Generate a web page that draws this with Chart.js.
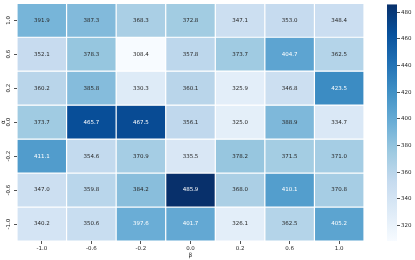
<!DOCTYPE html>
<html>
<head>
<meta charset="utf-8">
<script src="https://cdn.jsdelivr.net/npm/chart.js@4"></script>
<style>
body { margin: 0; background: #fff; }
#wrap { position: relative; width: 415px; height: 260px; }
canvas { position: absolute; top: 0; }
</style>
</head>
<body>
<div id="wrap">
  <canvas id="heat" width="370" height="260" style="left:0"></canvas>
  <canvas id="bar" width="45" height="260" style="left:370px"></canvas>
</div>
<script>
// beta along x, alpha along y (top row first)
const betas = ['-1.0', '-0.6', '-0.2', '0.0', '0.2', '0.6', '1.0'];
const alphas = ['1.0', '0.6', '0.2', '0.0', '-0.2', '-0.6', '-1.0'];

const rowA10 = [391.9, 387.3, 368.3, 372.8, 347.1, 353.0, 348.4];
const rowA06 = [352.1, 378.3, 308.4, 357.8, 373.7, 404.7, 362.5];
const rowA02 = [360.2, 385.8, 330.3, 360.1, 325.9, 346.8, 423.5];
const rowA00 = [373.7, 465.7, 467.5, 356.1, 325.0, 388.9, 334.7];
const rowAm02 = [411.1, 354.6, 370.9, 335.5, 378.2, 371.5, 371.0];
const rowAm06 = [347.0, 359.8, 384.2, 485.9, 368.0, 410.1, 370.8];
const rowAm10 = [340.2, 350.6, 397.6, 401.7, 326.1, 362.5, 405.2];

const rows = [rowA10, rowA06, rowA02, rowA00, rowAm02, rowAm06, rowAm10];
const cbTicks = [320, 340, 360, 380, 400, 420, 440, 460, 480];

const vmin = Math.min(...rows.flat());
const vmax = Math.max(...rows.flat());

Chart.defaults.font.family = '"DejaVu Sans", sans-serif';
Chart.defaults.font.size = 5.5;
Chart.defaults.color = '#262626';

// matplotlib "Blues"
const blues = [[247,251,255],[222,235,247],[198,219,239],[158,202,225],[107,174,214],
               [66,146,198],[33,113,181],[8,81,156],[8,48,107]];

function blueRGB(v) {
  let t = (v - vmin) / (vmax - vmin);
  t = Math.max(0, Math.min(1, t));
  const p = t * 8;
  const i = Math.min(7, Math.floor(p));
  const f = p - i;
  return blues[i].map((c, k) => Math.round(c + (blues[i + 1][k] - c) * f));
}

function luminance(rgb) {
  const c = rgb.map(x => {
    x /= 255;
    return x <= 0.03928 ? x / 12.92 : Math.pow((x + 0.055) / 1.055, 2.4);
  });
  return 0.2126 * c[0] + 0.7152 * c[1] + 0.0722 * c[2];
}

// rows are stacked bottom-up
const datasets = [];
for (let r = rows.length - 1; r >= 0; r--) {
  datasets.push({
    label: alphas[r],
    values: rows[r],
    data: betas.map(() => 1),
    backgroundColor: rows[r].map(v => `rgb(${blueRGB(v)})`),
    borderColor: '#ffffff',
    borderWidth: 0.6,
    borderSkipped: false,
    inflateAmount: 0,
    barPercentage: 1,
    categoryPercentage: 1
  });
}

const cellText = {
  id: 'cellText',
  afterDatasetsDraw(chart) {
    const ctx = chart.ctx;
    ctx.save();
    ctx.font = '5.5px "DejaVu Sans"';
    ctx.textAlign = 'center';
    ctx.textBaseline = 'middle';
    chart.data.datasets.forEach((ds, di) => {
      chart.getDatasetMeta(di).data.forEach((el, i) => {
        const v = ds.values[i];
        ctx.fillStyle = luminance(blueRGB(v)) > 0.408 ? '#262626' : '#ffffff';
        ctx.fillText(v.toFixed(1), el.x, (el.y + el.base) / 2);
      });
    });
    ctx.restore();
  }
};

new Chart(document.getElementById('heat'), {
  type: 'bar',
  data: { labels: betas, datasets: datasets },
  options: {
    responsive: false,
    animation: false,
    devicePixelRatio: 1,
    layout: { padding: { left: 0, top: 3, right: 6, bottom: 0 } },
    plugins: { legend: { display: false }, tooltip: { enabled: false } },
    scales: {
      x: {
        stacked: true,
        afterFit: s => { s.height = 19; },
        grid: { offset: false, drawOnChartArea: false, tickLength: 3, color: '#262626', lineWidth: 0.8 },
        border: { display: false },
        ticks: { padding: 1, maxRotation: 0 },
        title: { display: true, text: 'β', padding: { top: 0, bottom: 1 }, font: { size: 6 } }
      },
      y: {
        stacked: true,
        min: 0,
        max: 7,
        afterFit: s => { s.width = 17; },
        afterBuildTicks: s => { s.ticks = alphas.map((a, i) => ({ value: 6.5 - i })); },
        grid: { drawOnChartArea: false, tickLength: 3, color: '#262626', lineWidth: 0.8 },
        border: { display: false },
        ticks: {
          minRotation: 90,
          maxRotation: 90,
          crossAlign: 'center',
          padding: 0,
          callback: v => alphas[Math.round(6.5 - v)]
        },
        title: { display: true, text: 'α', padding: 0, font: { size: 6 } }
      }
    }
  },
  plugins: [cellText]
});

function cbGradient(chart) {
  const { ctx, chartArea, scales } = chart;
  if (!chartArea) return 'rgb(107,174,214)';
  const y = scales.y;
  const g = ctx.createLinearGradient(0, y.getPixelForValue(vmin), 0, y.getPixelForValue(vmax));
  blues.forEach((c, i) => g.addColorStop(i / 8, `rgb(${c})`));
  return g;
}

new Chart(document.getElementById('bar'), {
  type: 'bar',
  data: {
    labels: ['cb'],
    datasets: [{
      data: [[vmin, vmax]],
      backgroundColor: ctx => cbGradient(ctx.chart),
      borderWidth: 0,
      inflateAmount: 0,
      barPercentage: 1,
      categoryPercentage: 1
    }]
  },
  options: {
    responsive: false,
    animation: false,
    devicePixelRatio: 1,
    layout: { padding: { left: 17, top: 3, right: 0, bottom: 19 } },
    plugins: { legend: { display: false }, tooltip: { enabled: false } },
    scales: {
      x: { display: false },
      y: {
        position: 'right',
        min: vmin,
        max: vmax,
        afterFit: s => { s.width = 18; },
        afterBuildTicks: s => { s.ticks = cbTicks.map(v => ({ value: v })); },
        grid: { drawOnChartArea: false, tickLength: 3, color: '#262626', lineWidth: 0.8 },
        border: { display: false },
        ticks: { padding: 1 }
      }
    }
  }
});
</script>
</body>
</html>
